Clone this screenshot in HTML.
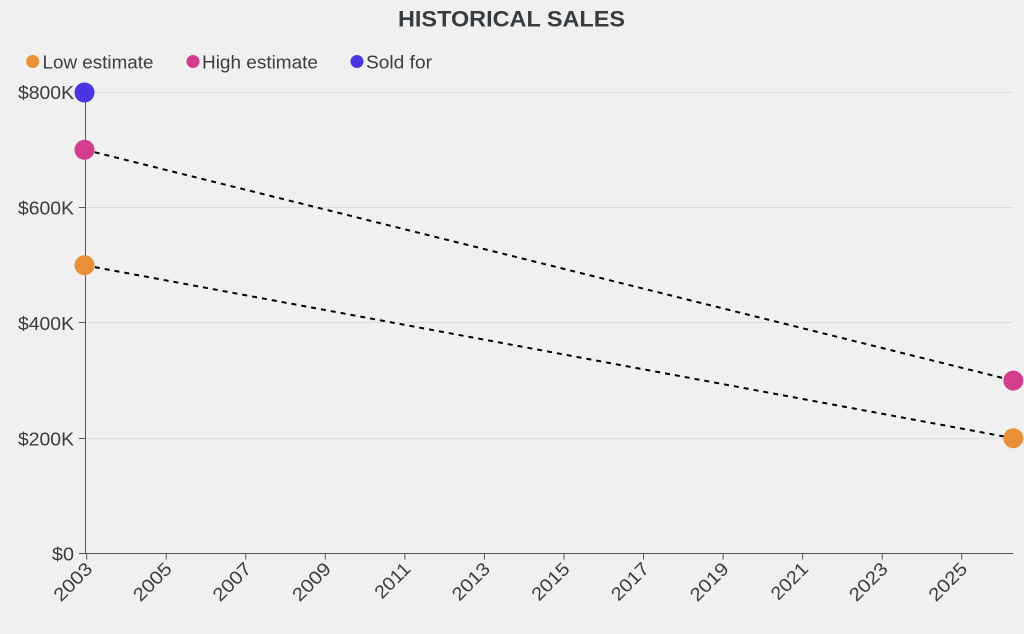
<!DOCTYPE html>
<html>
<head>
<meta charset="utf-8">
<style>
  html, body { margin: 0; padding: 0; background: #f0f0f0; }
  svg { display: block; }
  text { font-family: "Liberation Sans", "DejaVu Sans", sans-serif; }
</style>
</head>
<body>
<svg width="1024" height="634" viewBox="0 0 1024 634" xmlns="http://www.w3.org/2000/svg">
  <rect x="0" y="0" width="1024" height="634" fill="#f0f0f0"/>

  <!-- Title -->
  <text x="511.5" y="26.5" text-anchor="middle" font-size="22.5" font-weight="bold" fill="#373c40" textLength="227" lengthAdjust="spacingAndGlyphs">HISTORICAL SALES</text>

  <!-- Legend -->
  <circle cx="32.7" cy="61.5" r="6.5" fill="#e98f37"/>
  <text x="42.5" y="68.5" font-size="18" fill="#3a3d40" textLength="111" lengthAdjust="spacingAndGlyphs">Low estimate</text>
  <circle cx="193" cy="61.5" r="6.5" fill="#d43d8c"/>
  <text x="202" y="68.5" font-size="18" fill="#3a3d40" textLength="116" lengthAdjust="spacingAndGlyphs">High estimate</text>
  <circle cx="357" cy="61.5" r="6.5" fill="#4b34e2"/>
  <text x="366" y="68.5" font-size="18" fill="#3a3d40" textLength="66" lengthAdjust="spacingAndGlyphs">Sold for</text>

  <!-- Gridlines -->
  <g stroke="#dddddd" stroke-width="1">
    <line x1="85" y1="92.5" x2="1013" y2="92.5"/>
    <line x1="85" y1="207.5" x2="1013" y2="207.5"/>
    <line x1="85" y1="322.5" x2="1013" y2="322.5"/>
    <line x1="85" y1="438.5" x2="1013" y2="438.5"/>
  </g>

  <!-- Y axis -->
  <g stroke="#555" stroke-width="1">
    <line x1="85.5" y1="92" x2="85.5" y2="554"/>
    <line x1="79" y1="92.5" x2="85.5" y2="92.5"/>
    <line x1="79" y1="207.5" x2="85.5" y2="207.5"/>
    <line x1="79" y1="322.5" x2="85.5" y2="322.5"/>
    <line x1="79" y1="438.5" x2="85.5" y2="438.5"/>
    <line x1="79" y1="553.5" x2="85.5" y2="553.5"/>
  </g>
  <g font-size="18.5" fill="#3a3d40" text-anchor="end">
    <text x="74" y="99" textLength="56" lengthAdjust="spacingAndGlyphs">$800K</text>
    <text x="74" y="214.5" textLength="56" lengthAdjust="spacingAndGlyphs">$600K</text>
    <text x="74" y="330" textLength="56" lengthAdjust="spacingAndGlyphs">$400K</text>
    <text x="74" y="445.5" textLength="56" lengthAdjust="spacingAndGlyphs">$200K</text>
    <text x="74" y="560.5" textLength="22" lengthAdjust="spacingAndGlyphs">$0</text>
  </g>

  <!-- X axis -->
  <g stroke="#555" stroke-width="1">
    <line x1="85" y1="553.5" x2="1013.3" y2="553.5"/>
    <line x1="86.7" y1="553.5" x2="86.7" y2="559.5"/>
    <line x1="166.2" y1="553.5" x2="166.2" y2="559.5"/>
    <line x1="245.8" y1="553.5" x2="245.8" y2="559.5"/>
    <line x1="325.3" y1="553.5" x2="325.3" y2="559.5"/>
    <line x1="404.9" y1="553.5" x2="404.9" y2="559.5"/>
    <line x1="484.4" y1="553.5" x2="484.4" y2="559.5"/>
    <line x1="564.0" y1="553.5" x2="564.0" y2="559.5"/>
    <line x1="643.5" y1="553.5" x2="643.5" y2="559.5"/>
    <line x1="723.1" y1="553.5" x2="723.1" y2="559.5"/>
    <line x1="802.6" y1="553.5" x2="802.6" y2="559.5"/>
    <line x1="882.2" y1="553.5" x2="882.2" y2="559.5"/>
    <line x1="961.7" y1="553.5" x2="961.7" y2="559.5"/>
  </g>
  <g font-size="18.5" fill="#3a3d40" text-anchor="end">
    <text transform="translate(93.5,570) rotate(-45)" textLength="46" lengthAdjust="spacingAndGlyphs">2003</text>
    <text transform="translate(173,570) rotate(-45)" textLength="46" lengthAdjust="spacingAndGlyphs">2005</text>
    <text transform="translate(252.6,570) rotate(-45)" textLength="46" lengthAdjust="spacingAndGlyphs">2007</text>
    <text transform="translate(332.1,570) rotate(-45)" textLength="46" lengthAdjust="spacingAndGlyphs">2009</text>
    <text transform="translate(411.7,570) rotate(-45)" textLength="42" lengthAdjust="spacingAndGlyphs">2011</text>
    <text transform="translate(491.2,570) rotate(-45)" textLength="45" lengthAdjust="spacingAndGlyphs">2013</text>
    <text transform="translate(570.8,570) rotate(-45)" textLength="45" lengthAdjust="spacingAndGlyphs">2015</text>
    <text transform="translate(650.3,570) rotate(-45)" textLength="45" lengthAdjust="spacingAndGlyphs">2017</text>
    <text transform="translate(729.9,570) rotate(-45)" textLength="46" lengthAdjust="spacingAndGlyphs">2019</text>
    <text transform="translate(809.4,570) rotate(-45)" textLength="44" lengthAdjust="spacingAndGlyphs">2021</text>
    <text transform="translate(889,570) rotate(-45)" textLength="46" lengthAdjust="spacingAndGlyphs">2023</text>
    <text transform="translate(968.5,570) rotate(-45)" textLength="46" lengthAdjust="spacingAndGlyphs">2025</text>
  </g>

  <!-- Dashed lines -->
  <g stroke="#000" stroke-width="2" stroke-dasharray="5,5" fill="none">
    <line x1="85" y1="149.8" x2="1013.3" y2="380.6"/>
    <line x1="85" y1="265.3" x2="1013.3" y2="438.2"/>
  </g>

  <!-- Points -->
  <circle cx="84.5" cy="92.5" r="10" fill="#4b34e2"/>
  <circle cx="84.5" cy="149.8" r="10" fill="#d43d8c"/>
  <circle cx="84.5" cy="265.3" r="10" fill="#e98f37"/>
  <circle cx="1013.3" cy="380.6" r="10" fill="#d43d8c"/>
  <circle cx="1013.3" cy="438.2" r="10" fill="#e98f37"/>
</svg>
</body>
</html>
